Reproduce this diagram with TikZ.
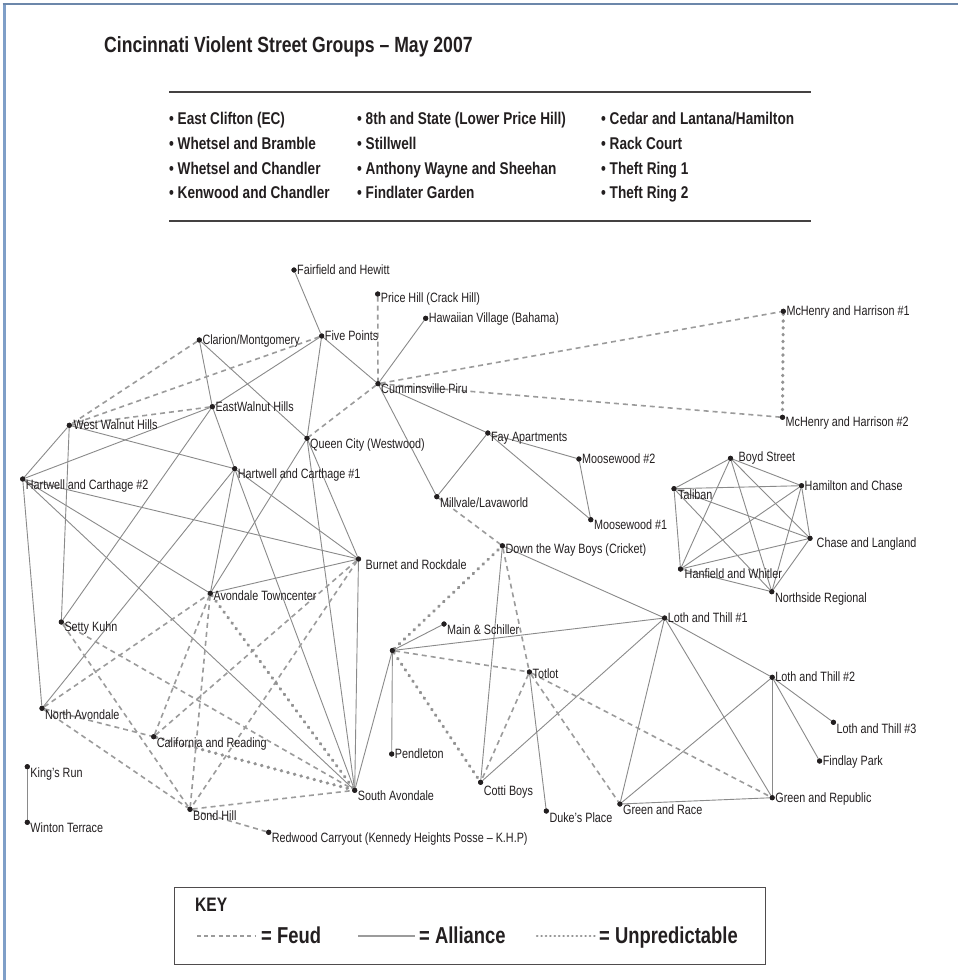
\documentclass[tikz,border=0pt]{standalone}
\usepackage{fontspec}
\setmainfont{Liberation Sans}[FakeStretch=0.8]
\definecolor{lg}{HTML}{8A8A8A}
\definecolor{dg}{HTML}{9B9B9B}
\definecolor{dotc}{HTML}{939393}
\definecolor{framec}{HTML}{7F9FC8}
\definecolor{ink}{HTML}{231F20}
\newcommand\lblf{\fontsize{13.5}{15}\selectfont}
\newcommand\ttlf{\fontsize{22}{25}\selectfont\bfseries}
\newcommand\lstf{\fontsize{17}{19}\selectfont\bfseries}
\newcommand\keyf{\fontsize{23}{26}\selectfont\bfseries}
\begin{document}
\begin{tikzpicture}[x=1pt,y=-1pt,
  dot/.style={circle,fill=ink,inner sep=0pt,minimum size=5pt},
  lab/.style={anchor=base west,inner sep=0pt,xshift=3pt,yshift=-4.5pt,font=\lblf,text=ink},
  ally/.style={draw=lg,line width=0.9pt},
  feud/.style={draw=dg,line width=1.6pt,dash pattern=on 5pt off 4pt},
  unpr/.style={draw=dotc,line width=3.2pt,line cap=round,dash pattern=on 0.6pt off 6.2pt},
  lst/.style={anchor=base west,inner sep=0pt,font=\lstf,text=ink},
  rulel/.style={draw=ink!85,line width=1.8pt}]
\useasboundingbox (0,0) rectangle (958,980);
\fill[white] (0,0) rectangle (958,980);
% frame
\coordinate (fr1) at (4,980); \coordinate (fr2) at (4,2.5); \coordinate (fr3) at (958,4); \coordinate (fr4) at (2.5,4);
\draw[framec,line width=3pt] (fr1) -- (fr2);
\draw[framec!85!black,line width=2pt] (fr4) -- (fr3);
% title and list
\node[anchor=base west,inner sep=0pt,font=\ttlf,text=ink] (title) at (104,52) {Cincinnati Violent Street Groups -- May 2007};
\coordinate (r1a) at (169,92); \coordinate (r1b) at (811,92);
\coordinate (r2a) at (169,221); \coordinate (r2b) at (811,221);
\draw[rulel] (r1a) -- (r1b);
\draw[rulel] (r2a) -- (r2b);
\node[lst] (a1) at (169,124) {• East Clifton (EC)};
\node[lst] (a2) at (169,149) {• Whetsel and Bramble};
\node[lst] (a3) at (169,174) {• Whetsel and Chandler};
\node[lst] (a4) at (169,198) {• Kenwood and Chandler};
\node[lst] (b1) at (357,124) {• 8th and State (Lower Price Hill)};
\node[lst] (b2) at (357,149) {• Stillwell};
\node[lst] (b3) at (357,174) {• Anthony Wayne and Sheehan};
\node[lst] (b4) at (357,198) {• Findlater Garden};
\node[lst] (c1) at (601,124) {• Cedar and Lantana/Hamilton};
\node[lst] (c2) at (601,149) {• Rack Court};
\node[lst] (c3) at (601,174) {• Theft Ring 1};
\node[lst] (c4) at (601,198) {• Theft Ring 2};
% nodes
\node[dot] (fh) at (294,270) {};
\node[dot] (ph) at (377.7,294) {};
\node[dot] (hv) at (425.7,318.3) {};
\node[dot] (cm) at (199.3,340) {};
\node[dot] (fp) at (321.7,336) {};
\node[dot] (cp) at (378,383.7) {};
\node[dot] (ew) at (212.3,406.7) {};
\node[dot] (ww) at (69.3,425.3) {};
\node[dot] (qc) at (307,438.3) {};
\node[dot] (h1) at (234.7,468.7) {};
\node[dot] (h2) at (22.7,479) {};
\node[dot] (mv) at (436.8,496.7) {};
\node[dot] (mh1) at (783.3,311.3) {};
\node[dot] (mh2) at (782.5,417.3) {};
\node[dot] (fa) at (487.8,433) {};
\node[dot] (m2) at (578.9,459) {};
\node[dot] (m1) at (590.8,519.7) {};
\node[dot] (dw) at (502.4,545.8) {};
\node[dot] (bs) at (730.5,458.3) {};
\node[dot] (tb) at (674,488.7) {};
\node[dot] (hc) at (801.5,485.7) {};
\node[dot] (cl) at (810,538.3) {};
\node[dot] (hw) at (680.5,569) {};
\node[dot] (nr) at (771.8,591.7) {};
\node[dot] (br) at (358.5,559) {};
\node[dot] (at) at (210.3,593.3) {};
\node[dot] (sk) at (61.3,622) {};
\node[dot] (un) at (392.4,650.5) {};
\node[dot] (ms) at (444,624) {};
\node[dot] (l1) at (664.6,618) {};
\node[dot] (na) at (42,708.3) {};
\node[dot] (tt) at (529.4,672) {};
\node[dot] (l2) at (772.2,677.3) {};
\node[dot] (l3) at (833.4,722.3) {};
\node[dot] (cr) at (153.7,736.7) {};
\node[dot] (pd) at (391.7,754) {};
\node[dot] (fl) at (819.6,761) {};
\node[dot] (kr) at (27.3,766.7) {};
\node[dot] (cb) at (480.6,782.3) {};
\node[dot] (sa) at (354.7,790.3) {};
\node[dot] (gp) at (772.2,797.7) {};
\node[dot] (gr) at (619.9,804) {};
\node[dot] (bh) at (190,809.3) {};
\node[dot] (dp) at (546.3,811) {};
\node[dot] (wt) at (27.3,822.3) {};
\node[dot] (rc) at (268.7,832.3) {};
% edges: alliance
\foreach \a/\b in {fh/fp,hv/cp,fp/cp,cm/ew,ew/h1,cm/qc,fp/ew,h2/ew,fp/qc,ww/h1,ww/h2,ww/sk,
  cp/fa,cp/mv,fa/mv,fa/m2,fa/m1,m2/m1,qc/at,qc/sa,qc/br,h1/br,h1/at,h1/na,h1/sa,sk/ew,
  h2/br,h2/at,h2/sa,h2/na,at/br,br/sa,kr/wt,un/ms,un/l1,un/pd,un/sa,dw/l1,dw/cb,
  l1/l2,l1/gr,l1/gp,l1/cb,l2/l3,l2/fl,l2/gp,l2/gr,gr/gp,tt/dp,
  bs/tb,bs/hc,bs/cl,bs/hw,bs/nr,tb/hc,tb/cl,tb/hw,tb/nr,hc/cl,hc/hw,hc/nr,cl/hw,cl/nr,hw/nr}
  {\draw[ally] (\a) -- (\b);}
% edges: feud
\foreach \a/\b in {ph/cp,cm/ww,fp/ww,ew/ww,cp/qc,cp/mh1,cp/mh2,mv/dw,br/cr,br/bh,na/at,na/cr,
  na/bh,sk/bh,sk/sa,at/cr,at/bh,bh/sa,bh/rc,un/tt,tt/gp,tt/gr,tt/cb,dw/tt}
  {\draw[feud] (\a) -- (\b);}
% edges: unpredictable
\foreach \a/\b in {mh1/mh2,at/sa,cr/sa,un/dw,un/cb}
  {\draw[unpr] (\a) -- (\b);}
% redraw dots on top
\foreach \n in {fh,ph,hv,cm,fp,cp,ew,ww,qc,h1,h2,mv,mh1,mh2,fa,m2,m1,dw,bs,tb,hc,cl,hw,nr,br,at,sk,un,ms,l1,na,tt,l2,l3,cr,pd,fl,kr,cb,sa,gp,gr,bh,dp,wt,rc}
  {\fill[ink] (\n) circle (2.6pt);}
% labels
\node[lab] (fh-l) at (fh) {Fairfield and Hewitt};
\node[lab,yshift=-4pt] (ph-l) at (ph) {Price Hill (Crack Hill)};
\node[lab] (hv-l) at (hv) {Hawaiian Village (Bahama)};
\node[lab] (cm-l) at (cm) {Clarion/Montgomery};
\node[lab] (fp-l) at (fp) {Five Points};
\node[lab,yshift=-5pt] (cp-l) at (cp) {Cumminsville Piru};
\node[lab] (ew-l) at (ew) {EastWalnut Hills};
\node[lab,xshift=1pt] (ww-l) at (ww) {West Walnut Hills};
\node[lab,yshift=-5.5pt] (qc-l) at (qc) {Queen City (Westwood)};
\node[lab,yshift=-5.5pt] (h1-l) at (h1) {Hartwell and Carthage \#1};
\node[lab,yshift=-5.5pt] (h2-l) at (h2) {Hartwell and Carthage \#2};
\node[lab,yshift=-6pt] (mv-l) at (mv) {Millvale/Lavaworld};
\node[lab] (mh1-l) at (mh1) {McHenry and Harrison \#1};
\node[lab,yshift=-5pt] (mh2-l) at (mh2) {McHenry and Harrison \#2};
\node[lab,yshift=-4pt] (fa-l) at (fa) {Fay Apartments};
\node[lab] (m2-l) at (m2) {Moosewood \#2};
\node[lab,yshift=-5pt] (m1-l) at (m1) {Moosewood \#1};
\node[lab,yshift=-3pt] (dw-l) at (dw) {Down the Way Boys (Cricket)};
\node[lab,xshift=5pt,yshift=1pt] (bs-l) at (bs) {Boyd Street};
\node[lab,xshift=1pt,yshift=-6.5pt] (tb-l) at (tb) {Taliban};
\node[lab] (hc-l) at (hc) {Hamilton and Chase};
\node[lab,xshift=3.5pt,yshift=-5pt] (cl-l) at (cl) {Chase and Langland};
\node[lab,xshift=1pt,yshift=-5pt] (hw-l) at (hw) {Hanfield and Whitler};
\node[lab,yshift=-6.5pt] (nr-l) at (nr) {Northside Regional};
\node[lab,xshift=4pt,yshift=-5.5pt] (br-l) at (br) {Burnet and Rockdale};
\node[lab,yshift=-3pt] (at-l) at (at) {Avondale Towncenter};
\node[lab,yshift=-5pt] (sk-l) at (sk) {Setty Kuhn};
\node[lab,yshift=-5.5pt] (ms-l) at (ms) {Main \& Schiller};
\node[lab,yshift=0pt] (l1-l) at (l1) {Loth and Thill \#1};
\node[lab,yshift=0pt] (l2-l) at (l2) {Loth and Thill \#2};
\node[lab,yshift=-6.5pt] (na-l) at (na) {North Avondale};
\node[lab,yshift=-1.5pt] (tt-l) at (tt) {Totlot};
\node[lab,yshift=-7pt] (l3-l) at (l3) {Loth and Thill \#3};
\node[lab,yshift=-6.5pt] (cr-l) at (cr) {California and Reading};
\node[lab] (pd-l) at (pd) {Pendleton};
\node[lab] (fl-l) at (fl) {Findlay Park};
\node[lab,yshift=-6.5pt] (kr-l) at (kr) {King’s Run};
\node[lab,yshift=-8.5pt] (cb-l) at (cb) {Cotti Boys};
\node[lab,yshift=-6pt] (sa-l) at (sa) {South Avondale};
\node[lab] (gp-l) at (gp) {Green and Republic};
\node[lab,yshift=-5.5pt] (gr-l) at (gr) {Green and Race};
\node[lab,yshift=-7pt] (bh-l) at (bh) {Bond Hill};
\node[lab,yshift=-7pt] (dp-l) at (dp) {Duke’s Place};
\node[lab,yshift=-5.5pt] (wt-l) at (wt) {Winton Terrace};
\node[lab,yshift=-5.5pt] (rc-l) at (rc) {Redwood Carryout (Kennedy Heights Posse -- K.H.P)};
% key
\node[draw=ink!80,line width=1pt,inner sep=0pt,minimum width=591pt,minimum height=77pt,anchor=north west] (keybox) at (174,887) {};
\node[anchor=base west,inner sep=0pt,font=\fontsize{19.5}{22}\selectfont\bfseries,text=ink] (keyt) at (195,911) {KEY};
\coordinate (kf1) at (197,936); \coordinate (kf2) at (256,936);
\coordinate (ka1) at (358,936); \coordinate (ka2) at (415,936);
\coordinate (ku1) at (537,936); \coordinate (ku2) at (597,936);
\draw[draw=dg,line width=1.2pt,dash pattern=on 4pt off 3.2pt] (kf1) -- (kf2);
\draw[draw=dg,line width=1.2pt] (ka1) -- (ka2);
\draw[draw=dotc,line width=2.4pt,line cap=round,dash pattern=on 0.4pt off 4pt] (ku1) -- (ku2);
\node[anchor=base west,inner sep=0pt,font=\keyf,text=ink] (kft) at (261,943) {= Feud};
\node[anchor=base west,inner sep=0pt,font=\keyf,text=ink] (kat) at (419,943) {= Alliance};
\node[anchor=base west,inner sep=0pt,font=\keyf,text=ink] (kut) at (599,943) {= Unpredictable};
\end{tikzpicture}
\end{document}
